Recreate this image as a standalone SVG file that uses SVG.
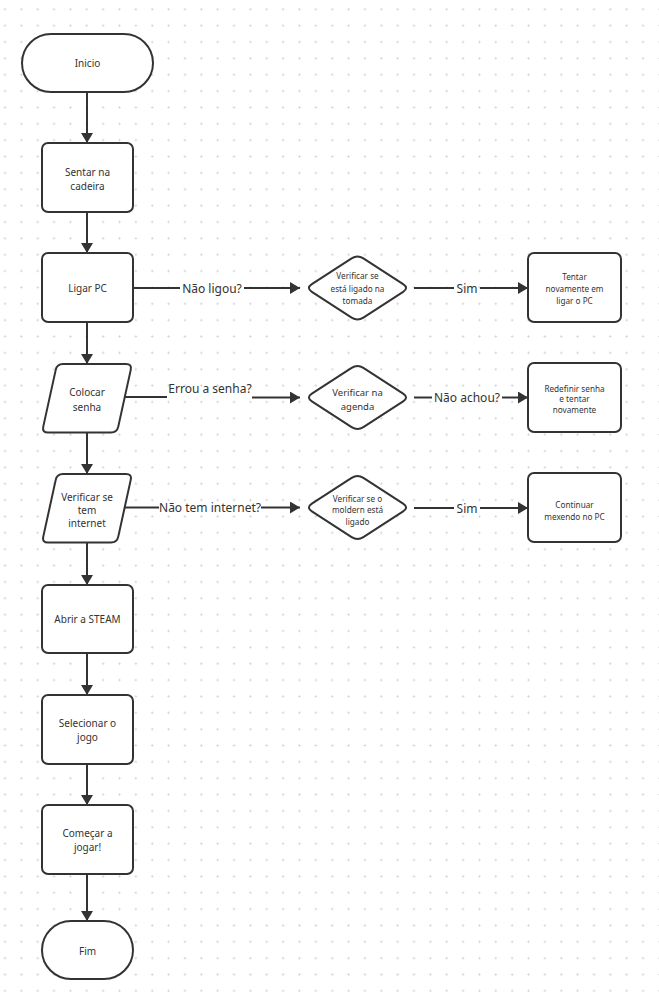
<svg xmlns="http://www.w3.org/2000/svg" width="659" height="997" viewBox="0 0 659 997">
<defs>
<pattern id="grid" patternUnits="userSpaceOnUse" x="-3.18" y="1.12" width="16.36" height="16.36">
<path d="M6.88,8.18 H9.48 M8.18,6.88 V9.48" stroke="#d2d2d2" stroke-width="0.8"/>
</pattern>
<marker id="arr" markerUnits="userSpaceOnUse" markerWidth="12" markerHeight="12" refX="10" refY="6" orient="auto">
<path d="M0,0 L10,6 L0,12 Z" fill="#333"/>
</marker>
<path id="dia" d="M -45.63,-3.82 L -5.87,-29.68 Q 0,-33.5 5.87,-29.68 L 45.63,-3.82 Q 51.5,0 45.63,3.82 L 5.87,29.68 Q 0,33.5 -5.87,29.68 L -45.63,3.82 Q -51.5,0 -45.63,-3.82 Z"/>
<path id="para" d="M 21,0 L 84,0 Q 90,0 88.73,5.86 L 76.27,62.64 Q 75,68.5 69,68.5 L 6,68.5 Q 0,68.5 1.27,62.64 L 13.73,5.86 Q 15,0 21,0 Z"/>
</defs>
<style>
.s{fill:#fff;stroke:#333;stroke-width:2}
.c{fill:none;stroke:#333;stroke-width:2}
text{font-family:"Noto Sans","Open Sans",sans-serif;fill:#333;text-anchor:middle;dominant-baseline:central}
.t{font-size:10px}
.m{font-size:9.5px}
.sm{font-size:8.2px}
.l{font-size:12px}
</style>
<rect width="659" height="997" fill="#fff"/>
<rect width="659" height="997" fill="url(#grid)"/>

<g id="connectors">
<line class="c" x1="87" y1="92" x2="87" y2="143" marker-end="url(#arr)"/>
<line class="c" x1="87" y1="212" x2="87" y2="253" marker-end="url(#arr)"/>
<line class="c" x1="87" y1="322" x2="87" y2="364" marker-end="url(#arr)"/>
<line class="c" x1="87" y1="433" x2="87" y2="474" marker-end="url(#arr)"/>
<line class="c" x1="87" y1="542" x2="87" y2="585" marker-end="url(#arr)"/>
<line class="c" x1="87" y1="653" x2="87" y2="695" marker-end="url(#arr)"/>
<line class="c" x1="87" y1="764" x2="87" y2="805" marker-end="url(#arr)"/>
<line class="c" x1="87" y1="874" x2="87" y2="921" marker-end="url(#arr)"/>

<line class="c" x1="133" y1="288" x2="180" y2="288"/>
<line class="c" x1="244" y1="288" x2="300" y2="288" marker-end="url(#arr)"/>
<text class="l" x="212" y="288">Não ligou?</text>
<line class="c" x1="414" y1="288" x2="454" y2="288"/>
<line class="c" x1="480" y1="288" x2="528" y2="288" marker-end="url(#arr)"/>
<text class="l" x="467" y="288">Sim</text>

<line class="c" x1="125" y1="397" x2="167" y2="397"/>
<line class="c" x1="252" y1="397.5" x2="300" y2="397.5" marker-end="url(#arr)"/>
<text class="l" x="210" y="388">Errou a senha?</text>
<line class="c" x1="414" y1="397.5" x2="432" y2="397.5"/>
<line class="c" x1="502" y1="397.5" x2="528" y2="397.5" marker-end="url(#arr)"/>
<text class="l" x="467" y="397.5">Não achou?</text>

<line class="c" x1="125" y1="507.5" x2="159" y2="507.5"/>
<line class="c" x1="261" y1="507.5" x2="300" y2="507.5" marker-end="url(#arr)"/>
<text class="l" x="210" y="507.5">Não tem internet?</text>
<line class="c" x1="414" y1="508" x2="454" y2="508"/>
<line class="c" x1="480" y1="508" x2="528" y2="508" marker-end="url(#arr)"/>
<text class="l" x="467" y="508">Sim</text>
</g>

<g id="inicio">
<rect class="s" x="22" y="34" width="131" height="58" rx="29"/>
<text class="t" x="87.5" y="63">Inicio</text>
</g>
<g id="sentar">
<rect class="s" x="42" y="143" width="91" height="69" rx="6"/>
<text class="t" x="87.5" y="171.5">Sentar na</text>
<text class="t" x="87.5" y="185.5">cadeira</text>
</g>
<g id="ligar">
<rect class="s" x="42" y="253" width="91" height="69" rx="6"/>
<text class="t" x="87.5" y="288">Ligar PC</text>
</g>
<g id="verificar-tomada">
<use href="#dia" class="s" x="357.5" y="288"/>
<text class="sm" x="357.5" y="275.7">Verificar se</text>
<text class="sm" x="357.5" y="288.3">está ligado na</text>
<text class="sm" x="357.5" y="300.7">tomada</text>
</g>
<g id="tentar">
<rect class="s" x="528" y="253" width="93" height="69" rx="6"/>
<text class="sm" x="574.5" y="276">Tentar</text>
<text class="sm" x="574.5" y="288.3">novamente em</text>
<text class="sm" x="574.5" y="300.7">ligar o PC</text>
</g>
<g id="colocar-senha">
<use href="#para" class="s" x="42" y="364"/>
<text class="t" x="87" y="391.7">Colocar</text>
<text class="t" x="87" y="406.7">senha</text>
</g>
<g id="verificar-agenda">
<use href="#dia" class="s" x="357.5" y="397.5"/>
<text class="m" x="357.5" y="392.3">Verificar na</text>
<text class="m" x="357.5" y="406.7">agenda</text>
</g>
<g id="redefinir">
<rect class="s" x="528" y="363" width="93" height="69" rx="6"/>
<text class="sm" x="574.5" y="388.3">Redefinir senha</text>
<text class="sm" x="574.5" y="398.8">e tentar</text>
<text class="sm" x="574.5" y="409.3">novamente</text>
</g>
<g id="verificar-internet">
<use href="#para" class="s" x="42" y="474"/>
<text class="t" x="87" y="496.7">Verificar se</text>
<text class="t" x="87" y="509.5">tem</text>
<text class="t" x="87" y="522.7">internet</text>
</g>
<g id="verificar-moldern">
<use href="#dia" class="s" x="357.5" y="507.5"/>
<text class="sm" x="357.5" y="498.3">Verificar se o</text>
<text class="sm" x="357.5" y="509.5">moldern está</text>
<text class="sm" x="357.5" y="521">ligado</text>
</g>
<g id="continuar">
<rect class="s" x="528" y="473" width="93" height="69" rx="6"/>
<text class="sm" x="574.5" y="504">Continuar</text>
<text class="sm" x="574.5" y="516.7">mexendo no PC</text>
</g>
<g id="abrir-steam">
<rect class="s" x="42" y="585" width="91" height="68" rx="6"/>
<text class="t" x="87.5" y="619.3">Abrir a STEAM</text>
</g>
<g id="selecionar">
<rect class="s" x="42" y="695" width="91" height="69" rx="6"/>
<text class="t" x="87.5" y="723.3">Selecionar o</text>
<text class="t" x="87.5" y="736.7">jogo</text>
</g>
<g id="comecar">
<rect class="s" x="42" y="805" width="91" height="69" rx="6"/>
<text class="t" x="87.5" y="833.3">Começar a</text>
<text class="t" x="87.5" y="847.3">jogar!</text>
</g>
<g id="fim">
<rect class="s" x="42" y="921" width="91" height="58" rx="29"/>
<text class="t" x="87.5" y="951">Fim</text>
</g>
</svg>
